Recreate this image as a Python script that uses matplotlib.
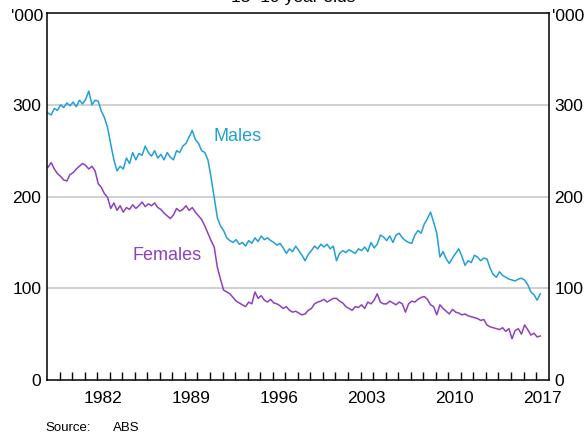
import numpy as np
import pandas as pd
import matplotlib
matplotlib.use("Agg")
import matplotlib.pyplot as plt

plt.rcParams['font.family'] = ['Liberation Sans', 'DejaVu Sans']

# quarterly readings, '000 persons, Feb 1978 .. May 2017
dates = pd.date_range("1978-02-01", "2017-05-01", freq="3MS")

males = [
    291, 289, 296, 294,
    300, 297, 302, 299,
    303, 298, 305, 301,
    306, 315, 300, 305,
    304, 293, 286, 275,
    257, 240, 228, 233,
    230, 242, 236, 248,
    240, 247, 245, 255,
    248, 244, 250, 242,
    246, 240, 248, 243,
    240, 250, 248, 255,
    258, 265, 272, 262,
    258, 250, 248, 240,
    221, 199, 177, 168,
    163, 155, 152, 150,
    153, 148, 150, 146,
    152, 149, 155, 151,
    157, 153, 155, 152,
    150, 147, 149, 144,
    138, 143, 140, 146,
    141, 136, 130, 137,
    141, 146, 143, 148,
    145, 148, 143, 146,
    130, 138, 141, 139,
    142, 140, 138, 143,
    141, 145, 140, 150,
    144, 148, 158, 156,
    152, 157, 150, 158,
    160, 155, 152, 150,
    149, 158, 163, 160,
    170, 176, 183, 172,
    160, 134, 140, 132,
    127, 133, 138, 143,
    135, 125, 130, 128,
    136, 134, 130, 133,
    132, 122, 115, 112,
    118, 114, 112, 110,
    109, 108, 110, 111,
    109, 104, 96, 93,
    87, 94,
]

females = [
    232, 237, 230, 225,
    222, 218, 217, 224,
    226, 230, 233, 236,
    234, 230, 233, 228,
    214, 210, 203, 199,
    187, 193, 185, 190,
    183, 188, 186, 191,
    187, 190, 194, 189,
    192, 190, 193, 188,
    186, 182, 179, 176,
    180, 187, 184, 186,
    190, 185, 188, 183,
    179, 175, 168, 160,
    152, 145, 123, 110,
    98, 96, 94, 90,
    86, 84, 82, 80,
    85, 83, 96, 89,
    92, 87, 85, 88,
    84, 83, 81, 78,
    80, 76, 74, 75,
    73, 71, 72, 76,
    78, 83, 85, 86,
    88, 85, 87, 89,
    89, 86, 84, 80,
    78, 76, 80, 79,
    82, 78, 85, 83,
    87, 94, 85, 83,
    83, 86, 84, 82,
    85, 83, 74, 83,
    86, 85, 88, 90,
    91, 88, 82, 80,
    71, 82, 78, 75,
    72, 77, 74, 73,
    71, 72, 70, 69,
    68, 67, 65, 66,
    60, 58, 57, 56,
    55, 57, 53, 56,
    45, 54, 56, 50,
    60, 55, 49, 51,
    47, 48,
]

year_labels = [1982, 1989, 1996, 2003, 2010, 2017]
y_ticks = [0, 100, 200, 300]

# decimal years for plotting
t = dates.year + (dates.month - 1) / 12.0

blue = "#21A0D8"
purple = "#8E40BF"

fig = plt.figure(figsize=(5.86, 4.36), dpi=100)
ax = fig.add_axes([0.0802, 0.1284, 0.856, 0.8416])

ax.plot(t, males, color=blue, lw=1.1)
ax.plot(t, females, color=purple, lw=1.1)

ax.set_xlim(1978, 2018)
ax.set_ylim(0, 400)

for v in y_ticks[1:]:
    ax.axhline(v, color="#c8c8c8", lw=1.2, zorder=0)

# year boundaries as small inward ticks, labels centred on the year
ax.set_xticks(np.arange(1979, 2018), minor=True)
ax.set_xticks([y + 0.5 for y in year_labels])
ax.set_xticklabels([str(y) for y in year_labels])
ax.tick_params(axis="x", which="minor", direction="in", length=6, width=1, color="black")
ax.tick_params(axis="x", which="major", length=0, labelsize=12.5, pad=8)

ax.set_yticks(y_ticks)
ax.set_yticklabels([str(v) for v in y_ticks])
ax.tick_params(axis="y", length=0, labelsize=12.5, pad=4,
               labelleft=True, labelright=True)

for s in ax.spines.values():
    s.set_linewidth(1.1)

ax.text(-0.008, 0.99, "'000", transform=ax.transAxes, ha="right", va="center", fontsize=12.5)
ax.text(1.006, 0.99, "'000", transform=ax.transAxes, ha="left", va="center", fontsize=12.5)

ax.text(1991.3, 266, "Males", color=blue, fontsize=13, va="center")
ax.text(1984.8, 136, "Females", color=purple, fontsize=13, va="center")

# title sits mostly above the top edge, as in the original
fig.text(0.5, 1.005, "15\u201319 year olds", ha="center", va="center", fontsize=12.5)
fig.text(0.077, 0.018, "Source:", fontsize=9.5, va="center")
fig.text(0.193, 0.018, "ABS", fontsize=9.5, va="center")

fig.savefig("out.png", dpi=100)
